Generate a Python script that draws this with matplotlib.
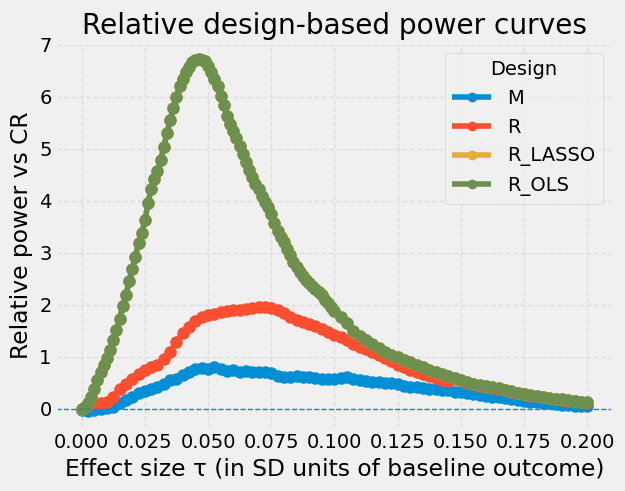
import matplotlib
matplotlib.use("Agg")
import matplotlib.pyplot as plt
from matplotlib.lines import Line2D
import numpy as np

plt.style.use("fivethirtyeight")

# effect-size grid for M and R (read every 0.0025)
effect_size = [round(0.0025 * i, 4) for i in range(81)]
# finer reading grid for the steep R_OLS / R_LASSO curves
effect_size_ols = [round(0.00125 * i, 5) for i in range(81)] + [round(0.1 + 0.0025 * i, 4) for i in range(1, 41)]

power_M = [
    -0.02, -0.04, -0.02, 0.00, 0.02, 0.04, 0.10, 0.16, 0.22, 0.30,
    0.34, 0.37, 0.42, 0.48, 0.55, 0.58, 0.64, 0.70, 0.77, 0.78,
    0.77, 0.80, 0.76, 0.73, 0.74, 0.71, 0.72, 0.71, 0.70, 0.71,
    0.68, 0.63, 0.61, 0.61, 0.62, 0.61, 0.61, 0.60, 0.58, 0.57,
    0.58, 0.60, 0.61, 0.58, 0.55, 0.53, 0.52, 0.51, 0.50, 0.49,
    0.47, 0.44, 0.42, 0.41, 0.39, 0.38, 0.37, 0.36, 0.35, 0.33,
    0.32, 0.30, 0.28, 0.26, 0.25, 0.23, 0.22, 0.20, 0.18, 0.16,
    0.15, 0.13, 0.12, 0.11, 0.10, 0.09, 0.08, 0.07, 0.06, 0.06,
    0.05,
]

power_R = [
    0.00, 0.08, 0.10, 0.10, 0.12, 0.22, 0.38, 0.48, 0.58, 0.66,
    0.74, 0.81, 0.84, 0.96, 1.10, 1.28, 1.45, 1.58, 1.68, 1.76,
    1.80, 1.83, 1.86, 1.88, 1.90, 1.90, 1.92, 1.93, 1.96, 1.95,
    1.93, 1.89, 1.84, 1.77, 1.71, 1.66, 1.62, 1.59, 1.54, 1.48,
    1.42, 1.37, 1.32, 1.24, 1.19, 1.15, 1.09, 1.03, 0.97, 0.91,
    0.85, 0.80, 0.75, 0.70, 0.66, 0.62, 0.59, 0.56, 0.54, 0.57,
    0.54, 0.50, 0.47, 0.44, 0.42, 0.40, 0.38, 0.35, 0.33, 0.30,
    0.28, 0.25, 0.24, 0.22, 0.20, 0.18, 0.17, 0.15, 0.14, 0.12,
    0.11,
]

power_R_OLS = [
    0.00, 0.03, 0.10, 0.22, 0.38, 0.55, 0.70, 0.85, 0.98, 1.12,
    1.33, 1.52, 1.72, 1.98, 2.18, 2.45, 2.68, 2.92, 3.18, 3.38,
    3.62, 3.95, 4.22, 4.42, 4.58, 4.78, 5.03, 5.30, 5.55, 5.78,
    6.00, 6.20, 6.35, 6.48, 6.58, 6.66, 6.71, 6.72, 6.70, 6.68,
    6.60, 6.48, 6.35, 6.20, 6.02, 5.85, 5.62, 5.48, 5.35, 5.20,
    5.05, 4.90, 4.75, 4.60, 4.45, 4.33, 4.22, 4.10, 3.98, 3.88,
    3.75, 3.58, 3.42, 3.30, 3.20, 3.08, 2.95, 2.83, 2.72, 2.63,
    2.55, 2.48, 2.42, 2.36, 2.30, 2.24, 2.18, 2.10, 2.03, 1.95,
    1.88,
    1.76, 1.64, 1.50, 1.40, 1.33, 1.24, 1.16, 1.10, 1.04, 0.99,
    0.94, 0.89, 0.84, 0.80, 0.75, 0.71, 0.67, 0.63, 0.59, 0.55,
    0.51, 0.48, 0.45, 0.43, 0.41, 0.39, 0.36, 0.34, 0.31, 0.29,
    0.26, 0.25, 0.23, 0.21, 0.19, 0.18, 0.16, 0.15, 0.13, 0.12,
]

power_R_LASSO = list(power_R_OLS)

designs = ["M", "R", "R_LASSO", "R_OLS"]
x_values = [effect_size, effect_size, effect_size_ols, effect_size_ols]
y_values = [power_M, power_R, power_R_LASSO, power_R_OLS]
colors = ["#008fd5", "#fc4f30", "#e5ae38", "#6d904f"]

fig = plt.figure(figsize=(6.25, 4.91), dpi=100)
ax = fig.add_axes([0.0902, 0.1277, 0.8898, 0.7851])
handles = []
for name, xs, ys, c in zip(designs, x_values, y_values, colors):
    ax.plot(xs, ys, marker="o", markersize=8, color=c, label=name)
    handles.append(Line2D([], [], color=c, marker="o", markersize=6, linewidth=4, label=name))

ax.axhline(0, color="#008fd5", linestyle="--", linewidth=1)
ax.set_title("Relative design-based power curves")
ax.set_xlabel("Effect size τ (in SD units of baseline outcome)")
ax.set_ylabel("Relative power vs CR")
ax.set_xticks(np.arange(0, 0.2001, 0.025))
ax.set_yticks(range(0, 8))
ax.set_xlim(-0.01, 0.21)
ax.set_ylim(-0.377, 7.037)
ax.grid(True, linestyle="--", alpha=0.5)
ax.legend(handles=handles, title="Design", loc="upper right", fontsize=14, title_fontsize=14)
fig.savefig("out.png", dpi=100)
